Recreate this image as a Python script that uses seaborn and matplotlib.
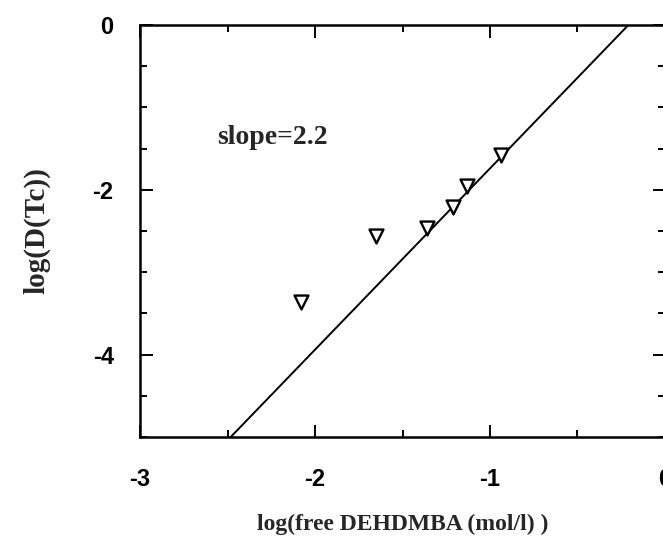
import numpy as np
import pandas as pd
import matplotlib
matplotlib.use("Agg")
import matplotlib.pyplot as plt
from matplotlib.ticker import MultipleLocator
import seaborn as sns

# Données
log_free_dehdmba = [-2.08, -1.65, -1.36, -1.21, -1.13, -0.94]
log_d_tc = [-3.36, -2.56, -2.46, -2.21, -1.95, -1.58]
fit_slope = 2.2
fit_intercept = 0.46
x_ticks = [-3, -2, -1, 0]
y_ticks = [0, -2, -4]

sns.set_style("ticks")
plt.rcParams['font.family'] = ['Liberation Sans', 'DejaVu Sans']
plt.rcParams['axes.unicode_minus'] = False

SERIF = ['Liberation Serif', 'DejaVu Serif']

fig = plt.figure(figsize=(6.63, 5.46), dpi=100)
ax = fig.add_axes([0.2112, 0.1996, 0.7918, 0.7546])

df = pd.DataFrame({'x': log_free_dehdmba, 'y': log_d_tc})

# Droite de pente 2.2
line_x = np.linspace(-3, 0, 50)
line_df = pd.DataFrame({'x': line_x, 'y': fit_slope * line_x + fit_intercept})
sns.lineplot(data=line_df, x='x', y='y', ax=ax, color='black', linewidth=1.4)

sns.scatterplot(data=df, x='x', y='y', ax=ax, marker='v', s=100,
                facecolor='white', edgecolor='black', linewidth=1.7, zorder=3)

ax.set_xlim(-3, 0)
ax.set_ylim(-5, 0)
ax.set_xticks(x_ticks)
ax.set_yticks(y_ticks)
ax.xaxis.set_minor_locator(MultipleLocator(0.5))
ax.yaxis.set_minor_locator(MultipleLocator(0.5))
ax.tick_params(which='both', direction='in', top=True, right=True, width=1.4,
               colors='black')
ax.tick_params(which='major', length=9, labelsize=17)
ax.tick_params(which='minor', length=5)
ax.tick_params(axis='x', which='major', pad=22)
ax.tick_params(axis='y', which='major', pad=19)
for lbl in ax.get_xticklabels() + ax.get_yticklabels():
    lbl.set_fontweight('bold')
for sp in ax.spines.values():
    sp.set_linewidth(1.8)
    sp.set_color('black')

ax.text(-2.56, -1.36, 'slope=2.2', fontsize=20, fontweight='bold',
        family=SERIF, va='center', ha='left')

ax.set_xlabel('log(free DEHDMBA (mol/l) )', fontsize=17, fontweight='bold',
              family=SERIF, labelpad=17)
ax.set_ylabel('log(D(Tc))', fontsize=21, fontweight='bold',
              family=SERIF, labelpad=30)

fig.savefig('out.png', dpi=100)
